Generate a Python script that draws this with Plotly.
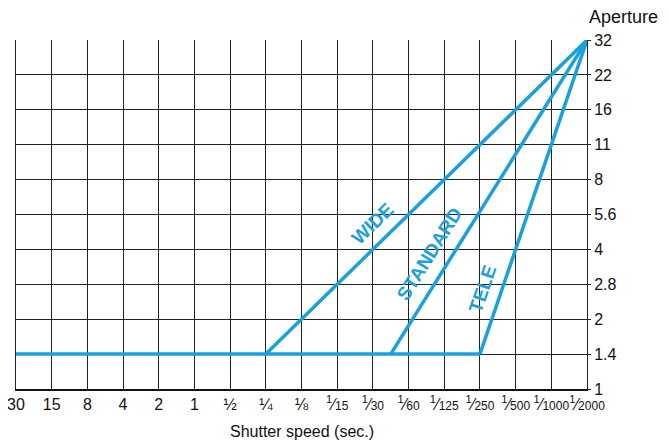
import plotly.graph_objects as go

BLUE = "#1aa0dc"
FONT = "Liberation Sans, Arial, sans-serif"


def frac(d):
    return f"<sup>1</sup>⁄<span style='font-size:12px'>{d}</span>"


# shutter speeds (one column per stop) and apertures (one row per stop)
shutter_labels = ["30", "15", "8", "4", "2", "1", "½", "¼", "⅛",
                  frac(15), frac(30), frac(60), frac(125), frac(250),
                  frac(500), frac(1000), frac(2000)]
aperture_labels = ["1", "1.4", "2", "2.8", "4", "5.6", "8", "11", "16", "22", "32"]

# program lines, in stop units (x = shutter column, y = aperture row)
base_x = [0, 13]
base_y = [1, 1]
wide_x = [7, 16]
wide_y = [1, 10]
standard_x = [10.5, 16]
standard_y = [1, 10]
tele_x = [13, 16]
tele_y = [1, 10]

fig = go.Figure()
for xs, ys in [(base_x, base_y), (wide_x, wide_y),
               (standard_x, standard_y), (tele_x, tele_y)]:
    fig.add_trace(go.Scatter(x=xs, y=ys, mode="lines",
                             line=dict(color=BLUE, width=3.5),
                             hoverinfo="skip", showlegend=False))

# lens labels, rotated along their lines
for txt, x, y, ang in [("WIDE", 10.0, 4.73, -44),
                       ("STANDARD", 11.6, 3.87, -58),
                       ("TELE", 13.08, 2.88, -71)]:
    fig.add_annotation(x=x, y=y, text=f"<b>{txt}</b>", showarrow=False,
                       textangle=ang,
                       font=dict(family=FONT, size=19, color=BLUE))

fig.add_annotation(x=1.0, y=1.0, xref="paper", yref="paper",
                   xanchor="left", yanchor="bottom", xshift=0, yshift=11,
                   text="Aperture", showarrow=False,
                   font=dict(family=FONT, size=18, color="#111"))

fig.add_annotation(x=0.5, y=0, xref="paper", yref="paper",
                   xanchor="center", yanchor="middle", yshift=-42,
                   text="Shutter speed (sec.)", showarrow=False,
                   font=dict(family=FONT, size=16, color="#111"))

# the page puts the figure 8px in from the top-left, so margins compensate
fig.update_layout(
    width=670, height=441,
    margin=dict(l=8, r=91, t=32, b=60),
    paper_bgcolor="white", plot_bgcolor="white",
    font=dict(family=FONT, size=15, color="#111"),
    xaxis=dict(range=[0, 16], tickvals=list(range(len(shutter_labels))),
               ticktext=shutter_labels, tickangle=0, showgrid=True,
               gridcolor="#222", gridwidth=1, zeroline=False, showline=True,
               linecolor="#111", linewidth=2, ticks="",
               tickfont=dict(size=16), ticklabeloverflow="allow",
               automargin=False),
    yaxis=dict(range=[0, 10], side="right",
               tickvals=list(range(len(aperture_labels))),
               ticktext=aperture_labels, showgrid=True, gridcolor="#222",
               gridwidth=1, zeroline=False, showline=True, mirror=True,
               linecolor="#222", linewidth=1, ticks="outside", ticklen=3,
               tickcolor="#222", tickfont=dict(size=16), automargin=False),
)

fig.write_html("out.html")
